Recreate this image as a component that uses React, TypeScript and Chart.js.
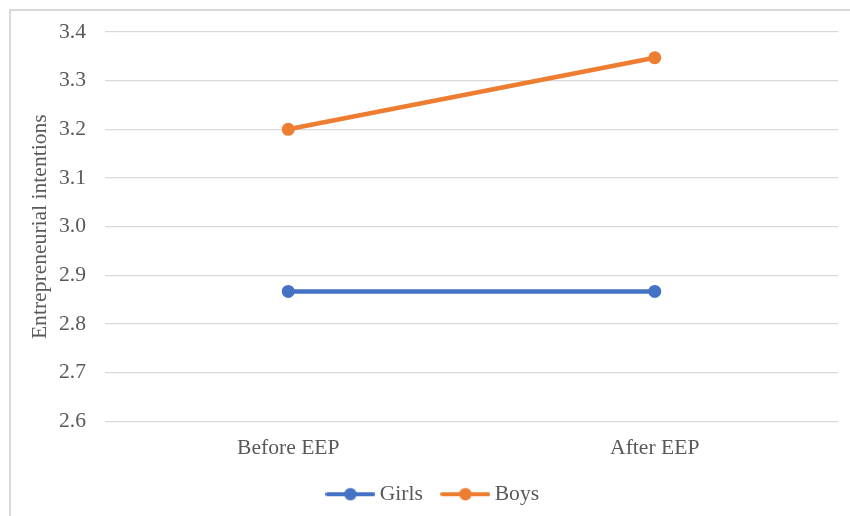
import React, { useEffect, useRef } from "react";
import { Chart, registerables } from "chart.js";

Chart.register(...registerables);

// Data
const categories = ["Before EEP", "After EEP"];
const girls = [2.867, 2.867];
const boys = [3.2, 3.347];
const seriesNames = ["Girls", "Boys"];
const yMin = 2.6;
const yMax = 3.4;
const yStep = 0.1;

const BLUE = "#4472C4";
const ORANGE = "#ED7D31";
const TEXT = "#595959";
const GRID = "#D9D9D9";
const FONT = "'Liberation Serif', 'Times New Roman', serif";
const FS = 21.6;

// Legend swatch: a short line with a marker in the middle
function makeSwatch(color: string): HTMLCanvasElement {
  const c = document.createElement("canvas");
  c.width = 50;
  c.height = 14;
  const ctx = c.getContext("2d")!;
  ctx.strokeStyle = color;
  ctx.lineWidth = 4;
  ctx.lineCap = "round";
  ctx.beginPath();
  ctx.moveTo(2, 7);
  ctx.lineTo(48, 7);
  ctx.stroke();
  ctx.fillStyle = color;
  ctx.beginPath();
  ctx.arc(25, 7, 6.2, 0, Math.PI * 2);
  ctx.fill();
  return c;
}

export default function App() {
  const ref = useRef<HTMLCanvasElement | null>(null);

  useEffect(() => {
    if (!ref.current) return;
    const swatches = [makeSwatch(BLUE), makeSwatch(ORANGE)];
    const chart = new Chart(ref.current, {
      type: "line",
      data: {
        labels: categories,
        datasets: [
          {
            label: seriesNames[0],
            data: girls,
            borderColor: BLUE,
            backgroundColor: BLUE,
            borderWidth: 4.5,
            pointRadius: 6.5,
            pointBorderWidth: 0,
            pointBackgroundColor: BLUE,
          },
          {
            label: seriesNames[1],
            data: boys,
            borderColor: ORANGE,
            backgroundColor: ORANGE,
            borderWidth: 4.5,
            pointRadius: 6.5,
            pointBorderWidth: 0,
            pointBackgroundColor: ORANGE,
          },
        ],
      },
      options: {
        animation: false,
        responsive: false,
        maintainAspectRatio: false,
        devicePixelRatio: 1,
        layout: { padding: { left: 33, top: 31, right: 12, bottom: 1 } },
        plugins: {
          tooltip: { enabled: false },
          legend: {
            position: "bottom",
            labels: {
              usePointStyle: true,
              pointStyleWidth: 37,
              padding: 24,
              color: TEXT,
              font: { family: FONT, size: FS },
              generateLabels: (chart: any) =>
                chart.data.datasets.map((ds: any, i: number) => ({
                  text: ds.label,
                  fillStyle: ds.borderColor,
                  strokeStyle: ds.borderColor,
                  fontColor: TEXT,
                  lineWidth: 0,
                  pointStyle: swatches[i],
                  datasetIndex: i,
                  hidden: false,
                })),
            },
          },
        },
        scales: {
          x: {
            offset: true,
            grid: { display: false, drawTicks: false },
            border: { display: false },
            ticks: {
              color: TEXT,
              padding: 14,
              font: { family: FONT, size: FS },
            },
            afterFit: (s: any) => {
              s.height = 38;
            },
          },
          y: {
            min: yMin,
            max: yMax,
            grid: { color: GRID, lineWidth: 1.3, drawTicks: false },
            border: { display: false },
            ticks: {
              stepSize: yStep,
              padding: 19,
              color: TEXT,
              font: { family: FONT, size: FS },
              callback: (v: any) => Number(v).toFixed(1),
            },
            title: {
              display: true,
              text: "Entrepreneurial intentions",
              color: TEXT,
              padding: { top: -6, bottom: 0 },
              font: { family: FONT, size: FS },
            },
            afterFit: (s: any) => {
              s.width = 72;
            },
          },
        },
      },
    });
    return () => chart.destroy();
  }, []);

  return (
    <div style={{ position: "absolute", left: 0, top: 0, width: 850, height: 516, overflow: "hidden", background: "#fff" }}>
      <div
        style={{
          position: "absolute",
          left: 9,
          top: 9,
          width: 900,
          height: 600,
          borderLeft: `2px solid ${GRID}`,
          borderTop: `2px solid ${GRID}`,
        }}
      />
      <canvas ref={ref} width={850} height={516} style={{ position: "absolute", left: 0, top: 0, width: 850, height: 516 }} />
    </div>
  );
}
